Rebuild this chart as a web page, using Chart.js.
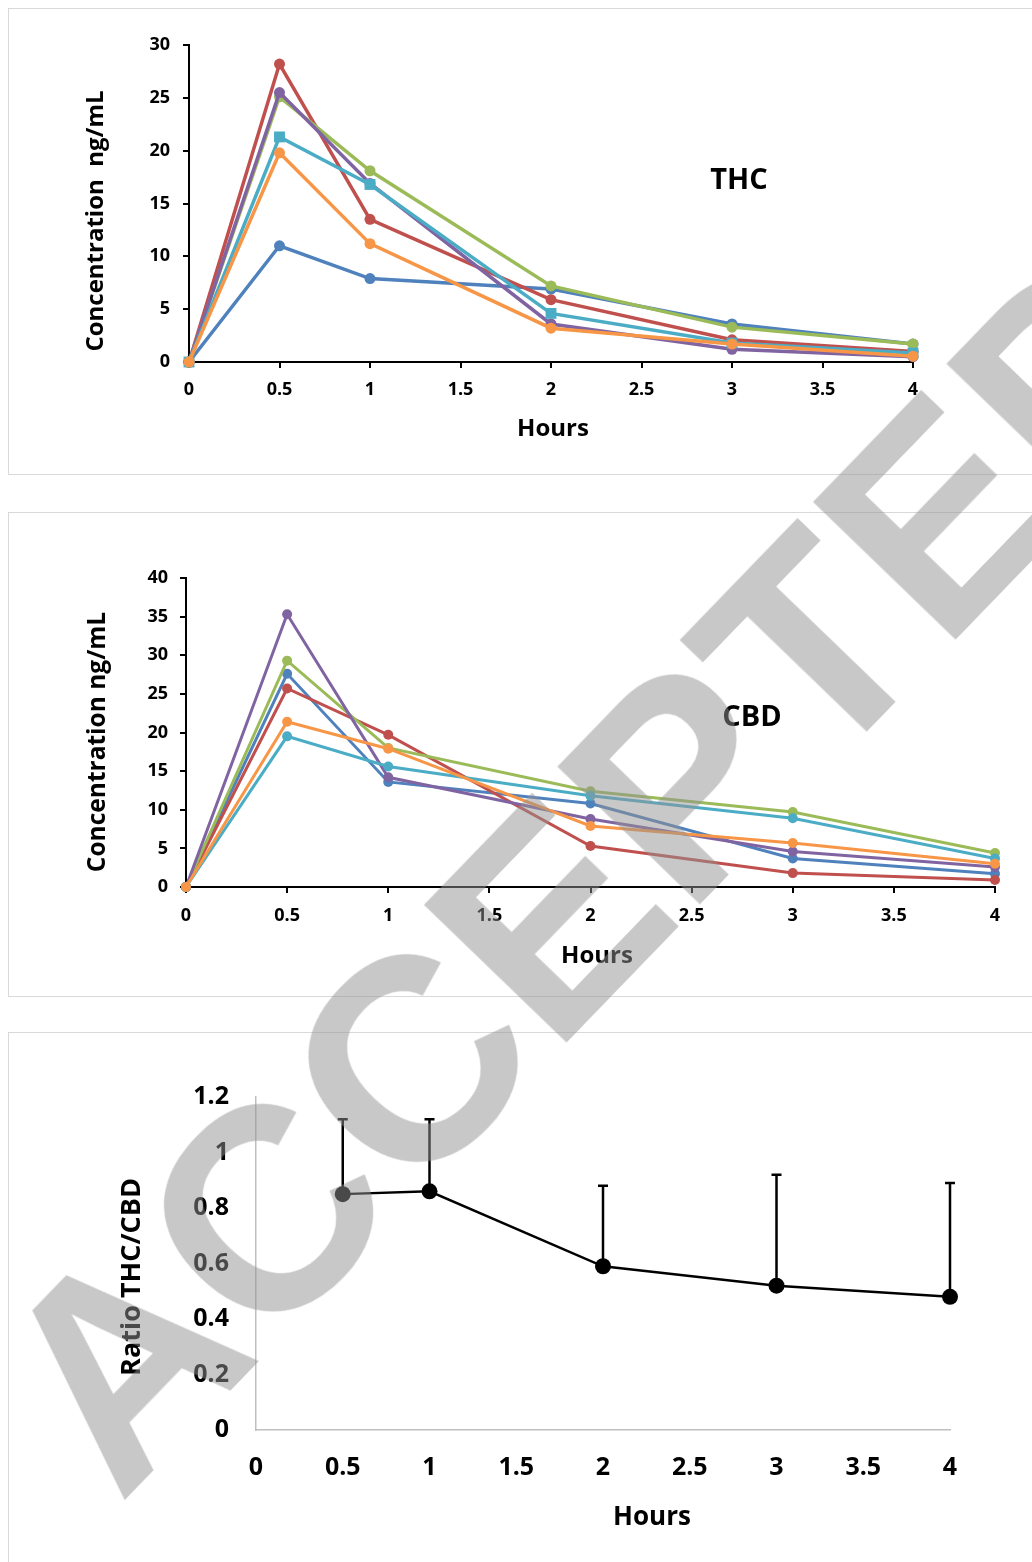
<!DOCTYPE html>
<html>
<head>
<meta charset="utf-8">
<script src="https://cdn.jsdelivr.net/npm/chart.js@4.4.0/dist/chart.umd.min.js"></script>
<style>
  body { margin: 0; width: 1032px; height: 1562px; overflow: hidden; background: #fff; position: relative; }
  .panel { position: absolute; left: 8px; width: 1100px; border: 1px solid #d9d9d9; box-sizing: border-box; }
  canvas { position: absolute; left: 0; }
  #mark {
    position: absolute; left: 598px; top: 866px;
    transform: translate(-50%, -50%) rotate(-46deg);
    font: bold 288px "Liberation Sans", Arial, sans-serif;
    color: rgba(146, 146, 146, 0.5);
    white-space: nowrap; pointer-events: none; line-height: 1;
  }
</style>
</head>
<body>
<div class="panel" style="top:8px;height:467px"></div>
<div class="panel" style="top:512px;height:485px"></div>
<div class="panel" style="top:1032px;height:600px"></div>
<canvas id="thc" width="1032" height="480" style="top:0"></canvas>
<canvas id="cbd" width="1032" height="500" style="top:500px"></canvas>
<canvas id="ratio" width="1032" height="542" style="top:1020px"></canvas>
<div id="mark">ACCEPTED</div>
<script>
// sampling times (hours)
const hours = [0, 0.5, 1, 2, 3, 4];

// THC concentration ng/mL, one array per subject
const thcBlue   = [0, 11.0, 7.9, 6.9, 3.6, 1.7];
const thcRed    = [0, 28.2, 13.5, 5.9, 2.1, 1.0];
const thcGreen  = [0, 25.1, 18.1, 7.2, 3.3, 1.7];
const thcPurple = [0, 25.5, 16.9, 3.6, 1.2, 0.5];
const thcAqua   = [0, 21.3, 16.8, 4.6, 1.8, 0.85];
const thcOrange = [0, 19.8, 11.2, 3.2, 1.7, 0.55];

// CBD concentration ng/mL
const cbdBlue   = [0, 27.6, 13.6, 10.8, 3.7, 1.7];
const cbdRed    = [0, 25.7, 19.7, 5.3, 1.8, 0.9];
const cbdGreen  = [0, 29.3, 18.0, 12.4, 9.7, 4.4];
const cbdPurple = [0, 35.3, 14.2, 8.8, 4.6, 2.6];
const cbdAqua   = [0, 19.5, 15.6, 11.8, 8.9, 3.7];
const cbdOrange = [0, 21.4, 17.9, 7.9, 5.7, 3.0];

// THC/CBD ratio, mean and upper SD
const ratioHours = [0.5, 1, 2, 3, 4];
const ratioMean  = [0.85, 0.86, 0.59, 0.52, 0.48];
const ratioSD    = [0.27, 0.26, 0.29, 0.40, 0.41];

const colors = ['#4F81BD', '#C0504D', '#9BBB59', '#8064A2', '#4BACC6', '#F79646'];
const FONT = '"Open Sans", sans-serif';

Chart.defaults.font.family = FONT;
Chart.defaults.color = '#000';

function pts(xs, ys) {
  return xs.map((x, i) => ({ x: x, y: ys[i] }));
}

function series(list, width, radius, squareIdx) {
  return list.map((ys, i) => ({
    data: pts(hours, ys),
    borderColor: colors[i],
    backgroundColor: colors[i],
    borderWidth: width,
    pointRadius: i === squareIdx ? radius * 1.4 : radius,
    pointStyle: i === squareIdx ? 'rect' : 'circle',
    pointBorderWidth: 0,
    order: list.length - i,
    clip: false,
    tension: 0
  }));
}

// axis titles and the panel name, drawn as text on the canvas
const labels = {
  id: 'labels',
  afterDraw(chart, args, opts) {
    const ctx = chart.ctx;
    (opts.items || []).forEach(t => {
      ctx.save();
      ctx.font = 'bold ' + t.size + 'px ' + FONT;
      ctx.fillStyle = '#000';
      ctx.textAlign = 'center';
      ctx.textBaseline = 'middle';
      ctx.translate(t.x, t.y);
      if (t.rot) ctx.rotate(t.rot * Math.PI / 180);
      ctx.fillText(t.text, 0, 0);
      ctx.restore();
    });
  }
};

// upper error bars for the ratio chart
const errorBars = {
  id: 'errorBars',
  beforeDatasetsDraw(chart, args, opts) {
    if (!opts.sd) return;
    const ctx = chart.ctx;
    const xs = chart.scales.x, ys = chart.scales.y;
    ctx.save();
    ctx.strokeStyle = '#000';
    ctx.lineWidth = 2.5;
    opts.sd.forEach((sd, i) => {
      const px = xs.getPixelForValue(ratioHours[i]);
      const y0 = ys.getPixelForValue(ratioMean[i]);
      const y1 = ys.getPixelForValue(ratioMean[i] + sd);
      ctx.beginPath();
      ctx.moveTo(px, y0);
      ctx.lineTo(px, y1);
      ctx.moveTo(px - 5, y1);
      ctx.lineTo(px + 5, y1);
      ctx.stroke();
    });
    ctx.restore();
  }
};

function axis(o) {
  return {
    type: 'linear',
    min: o.min,
    max: o.max,
    afterFit: s => { if (s.isHorizontal()) s.height = o.size; else s.width = o.size; },
    ticks: {
      stepSize: o.step, padding: o.pad, color: '#000',
      font: { weight: 'bold', size: o.tick },
      callback: v => String(Math.round(v * 100) / 100)
    },
    grid: o.marks
      ? { drawOnChartArea: false, drawTicks: true, tickLength: 6, color: '#000', lineWidth: o.line }
      : { display: false, drawTicks: false },
    border: { color: o.marks ? '#000' : '#bfbfbf', width: o.marks ? o.line : 1.5 },
    title: { display: false }
  };
}

new Chart(document.getElementById('thc'), {
  type: 'line',
  data: { datasets: series([thcBlue, thcRed, thcGreen, thcPurple, thcAqua, thcOrange], 3.5, 5.5, 4) },
  options: {
    responsive: false, animation: false, devicePixelRatio: 1,
    layout: { padding: { top: 45, right: 119, left: 0, bottom: 0 } },
    plugins: {
      legend: { display: false }, tooltip: { enabled: false },
      labels: { items: [
        { text: 'THC', x: 739, y: 181, size: 29 },
        { text: 'Hours', x: 553, y: 429, size: 24 },
        { text: 'Concentration  ng/mL', x: 96, y: 221, size: 24, rot: -90 }
      ] }
    },
    scales: {
      x: axis({ min: 0, max: 4, step: 0.5, size: 118, pad: 11, tick: 18, marks: true, line: 2 }),
      y: axis({ min: 0, max: 30, step: 5, size: 189, pad: 13, tick: 18, marks: true, line: 2 })
    }
  },
  plugins: [labels]
});

new Chart(document.getElementById('cbd'), {
  type: 'line',
  data: { datasets: series([cbdBlue, cbdRed, cbdGreen, cbdPurple, cbdAqua, cbdOrange], 3, 5, -1) },
  options: {
    responsive: false, animation: false, devicePixelRatio: 1,
    layout: { padding: { top: 78, right: 37, left: 0, bottom: 0 } },
    plugins: {
      legend: { display: false }, tooltip: { enabled: false },
      labels: { items: [
        { text: 'CBD', x: 752, y: 218, size: 29 },
        { text: 'Hours', x: 597, y: 456, size: 24 },
        { text: 'Concentration ng/mL', x: 98, y: 242, size: 24.5, rot: -90 }
      ] }
    },
    scales: {
      x: axis({ min: 0, max: 4, step: 0.5, size: 113, pad: 12, tick: 18, marks: true, line: 2 }),
      y: axis({ min: 0, max: 40, step: 5, size: 186, pad: 12, tick: 18, marks: true, line: 2 })
    }
  },
  plugins: [labels]
});

new Chart(document.getElementById('ratio'), {
  type: 'line',
  data: {
    datasets: [{
      data: pts(ratioHours, ratioMean),
      borderColor: '#000', backgroundColor: '#000',
      borderWidth: 2.5, pointRadius: 8, pointBorderWidth: 0,
      clip: false, tension: 0
    }]
  },
  options: {
    responsive: false, animation: false, devicePixelRatio: 1,
    layout: { padding: { top: 77, right: 82, left: 0, bottom: 0 } },
    plugins: {
      legend: { display: false }, tooltip: { enabled: false },
      errorBars: { sd: ratioSD },
      labels: { items: [
        { text: 'Hours', x: 652, y: 498, size: 26 },
        { text: 'Ratio THC/CBD', x: 132, y: 257, size: 27, rot: -90 }
      ] }
    },
    scales: {
      x: axis({ min: 0, max: 4, step: 0.5, size: 132, pad: 23, tick: 25, marks: false }),
      y: axis({ min: 0, max: 1.2, step: 0.2, size: 256, pad: 27, tick: 25, marks: false })
    }
  },
  plugins: [errorBars, labels]
});
</script>
</body>
</html>
